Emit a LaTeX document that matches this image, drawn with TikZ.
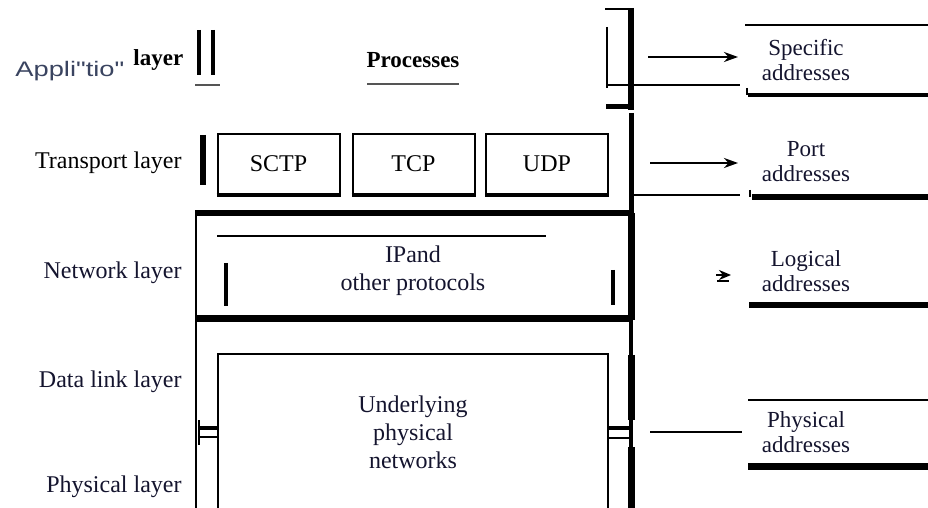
\documentclass[tikz,border=0pt]{standalone}
\usepackage{fontspec}
\usepackage{graphicx}
\setmainfont{Liberation Serif}
\newfontfamily\labelsans{Liberation Sans}
\usetikzlibrary{arrows.meta}
\definecolor{ink}{HTML}{14142E}
\definecolor{slate}{HTML}{3A4460}
\definecolor{rule}{HTML}{555555}
\begin{document}
\begin{tikzpicture}[x=0.5pt,y=-0.5pt,
  txt/.style={inner sep=0pt,font=\rmfamily\fontsize{12}{14}\selectfont,text=ink},
  boldtxt/.style={inner sep=0pt,font=\rmfamily\fontsize{11.5}{14}\selectfont\bfseries},
  layerlabel/.style={txt,anchor=east},
  addr/.style={txt,align=center,font=\rmfamily\fontsize{11.5}{12.5}\selectfont},
  protobox/.style={draw,line width=1pt,minimum width=61pt,minimum height=30pt,inner sep=0pt,
    font=\rmfamily\fontsize{12}{14}\selectfont},
  arrowline/.style={line width=1.2pt,-{Stealth[length=7pt,width=5pt]}},
  thinrule/.style={line width=0.6pt},
  heavy/.style={line width=3pt},
]
\useasboundingbox (0,0) rectangle (928,508);

% ---------------- layer names on the left
\node[inner sep=0pt,anchor=base west,font=\labelsans\fontsize{10.5}{12}\selectfont,text=slate]
  (appname) at (15,77) {\scalebox{1.3}[1]{Appli"tio"}};
\node[boldtxt,anchor=base west] (applayer) at (133,66) {layer};
\node[layerlabel,text=black] (translabel) at (182,163) {Transport layer};
\node[layerlabel] (netlabel) at (182,273) {Network layer};
\node[layerlabel] (dllabel) at (182,382) {Data link layer};
\node[layerlabel] (phylabel) at (182,487) {Physical layer};

% ---------------- application layer
\draw[line width=1.8pt] (199,30) -- (199,75);
\draw[line width=1.8pt] (213,30) -- (213,75);
\draw[rule,line width=0.9pt] (195,85) -- (220,85);
\node[boldtxt] (processes) at (413,60) {Processes};
\draw[rule,line width=0.9pt] (367,84) -- (459,84);

% bracket closing the application layer
\draw[line width=1.2pt] (605,9) -- (632,9);
\draw[line width=3pt] (631,8) -- (631,110);
\draw[line width=2.5pt] (606,107) -- (633,107);
\draw[line width=1.3pt] (607,27) -- (607,88);
\draw[thinrule] (607,85) -- (740,85);

% ---------------- transport layer
\draw[heavy] (203,135) -- (203,185);
\node[protobox] (sctp) at (278.5,164) {SCTP};
\node[protobox] (tcp) at (413.5,164) {TCP};
\node[protobox] (udp) at (547,164) {UDP};
\foreach \b in {sctp,tcp,udp}
  \draw[line width=1.6pt] (\b.south west) -- (\b.south east);
\draw[thinrule] (632,195) -- (740,195);

% ---------------- network layer
\draw[heavy] (195,213) -- (633,213);
\draw[line width=1.4pt] (196,213) -- (196,320);
\draw[heavy] (195,318) -- (633,318);
\draw[line width=0.8pt] (217,236) -- (546,236);
\draw[line width=2.4pt] (226,263) -- (226,306);
\draw[line width=2pt] (613,270) -- (613,305);
\node[txt,align=center] (ip) at (413,271) {IPand\\other protocols};

% ---------------- data link and physical layers
\draw[line width=1pt] (196,321) -- (632,321);
\draw[line width=1pt] (196,321) -- (196,508);
\draw[line width=0.8pt] (218,508) -- (218,354) -- (608,354) -- (608,508);
\node[txt,align=center] (under) at (413,432) {Underlying\\physical\\networks};
% small joints between the inner and outer frames
\draw[line width=1pt] (199,420) -- (199,445);
\draw[line width=1.6pt] (199,428) -- (218,428);
\draw[line width=0.7pt] (199,437) -- (218,437);
\draw[line width=1pt] (608,420) -- (608,445);
\draw[line width=1.6pt] (608,428) -- (630,428);
\draw[line width=0.7pt] (608,438) -- (630,438);

% main right-hand edge of the stack
\draw[line width=2.5pt] (631,113) -- (631,213);
\draw[line width=3.5pt] (631,213) -- (631,320);
\draw[line width=2pt] (631,320) -- (631,355);
\draw[line width=3.5pt] (631,355) -- (631,420);
\draw[line width=2pt] (631,420) -- (631,447);
\draw[line width=3.5pt] (631,447) -- (631,508);

% ---------------- addresses on the right
\node[addr] (specaddr) at (806,60) {Specific\\addresses};
\draw[line width=0.8pt] (745,25) -- (928,25);
\draw[line width=2pt] (748,95) -- (928,95);
\draw[line width=0.7pt] (747,88) -- (747,95);

\node[addr] (portaddr) at (806,162) {Port\\addresses};
\draw[heavy] (752,197) -- (928,197);
\draw[line width=0.7pt] (750,190) -- (750,197);

\node[addr] (logaddr) at (806,271) {Logical\\addresses};
\draw[heavy] (749,305) -- (928,305);

\node[addr] (phyaddr) at (806,432) {Physical\\addresses};
\draw[line width=0.8pt] (748,400) -- (928,400);
\draw[line width=3.5pt] (748,466) -- (928,466);

% ---------------- connectors from the stack to the addresses
\coordinate (a1s) at (648,57);  \coordinate (a1e) at (738,57);
\coordinate (a2s) at (650,163); \coordinate (a2e) at (738,163);
\coordinate (a3s) at (716,275); \coordinate (a3e) at (731,275);
\coordinate (a4s) at (650,432); \coordinate (a4e) at (742,432);
\draw[arrowline] (a1s) -- (a1e);
\draw[arrowline] (a2s) -- (a2e);
\draw[line width=0.8pt,-{Stealth[length=6pt,width=5pt]}] (a3s) -- (a3e);
\draw[line width=1pt] (717,281) -- (729,281);
\draw[line width=1pt] (a4s) -- (a4e);
\end{tikzpicture}
\end{document}
